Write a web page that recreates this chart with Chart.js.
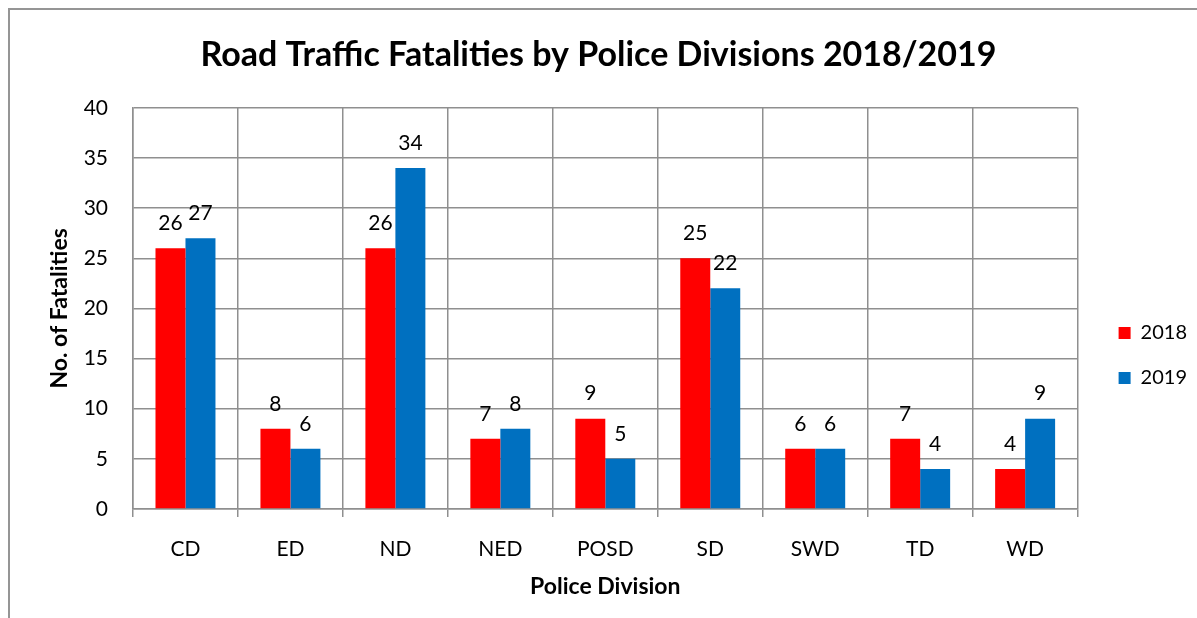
<!DOCTYPE html>
<html lang="en">
<head>
  <meta charset="UTF-8">
  <title>Road Traffic Fatalities by Police Divisions 2018/2019</title>
  <script src="https://cdn.jsdelivr.net/npm/chart.js"></script>
  <style>
    html, body { margin: 0; padding: 0; background: #fff; overflow: hidden; }
    #wrap { position: relative; width: 1197px; height: 618px; }
    #frame { position: absolute; left: 8px; top: 8px; width: 1300px; height: 700px; border: 2px solid #959595; box-sizing: border-box; pointer-events: none; }
    #viz { position: absolute; left: 0; top: 0; }
  </style>
  <script>
    const divisions = ['CD', 'ED', 'ND', 'NED', 'POSD', 'SD', 'SWD', 'TD', 'WD']
    const fatalities2018 = [26, 8, 26, 7, 9, 25, 6, 7, 4]
    const fatalities2019 = [27, 6, 34, 8, 5, 22, 6, 4, 9]
    const seriesNames = ['2018', '2019']
    const yMin = 0
    const yMax = 40
    const yStep = 5

    window.onload = () => {
      const gridColor = '#8f8f8f'
      Chart.defaults.font.family = 'Lato, "Open Sans", sans-serif'
      Chart.defaults.color = '#000'

      // numbers above the bars
      const valueLabels = {
        id: 'valueLabels',
        afterDatasetsDraw(chart) {
          const ctx = chart.ctx
          ctx.save()
          ctx.font = '21px Lato'
          ctx.fillStyle = '#000'
          ctx.textAlign = 'center'
          ctx.textBaseline = 'middle'
          chart.data.datasets.forEach((ds, i) => {
            chart.getDatasetMeta(i).data.forEach((bar, j) => {
              ctx.fillText(ds.data[j], bar.x, bar.y - 25)
            })
          })
          ctx.restore()
        }
      }

      new Chart(document.getElementById('viz'), {
        type: 'bar',
        data: {
          labels: divisions,
          datasets: [
            { label: seriesNames[0], data: fatalities2018, backgroundColor: '#ff0000', borderWidth: 0 },
            { label: seriesNames[1], data: fatalities2019, backgroundColor: '#0070c0', borderWidth: 0 }
          ]
        },
        options: {
          responsive: false,
          animation: false,
          devicePixelRatio: 1,
          layout: { padding: { left: 0, right: 0, top: 0, bottom: 0 } },
          datasets: { bar: { categoryPercentage: 60 / 105, barPercentage: 1 } },
          scales: {
            x: {
              grid: { color: gridColor, lineWidth: 1.5, offset: true, drawTicks: true, tickLength: 8 },
              border: { color: gridColor, width: 1.5 },
              ticks: { font: { size: 21 }, padding: 20, maxRotation: 0 },
              title: { display: true, text: 'Police Division', font: { size: 23, weight: 'bold' }, padding: { top: 0, bottom: 18 } },
              afterFit(scale) { scale.height = 109 }
            },
            y: {
              min: yMin,
              max: yMax,
              grid: { color: gridColor, lineWidth: 1.5, drawTicks: false },
              border: { color: gridColor, width: 1.5 },
              ticks: { stepSize: yStep, font: { size: 21 }, padding: 25 },
              title: { display: true, text: 'No. of Fatalities', font: { size: 23, weight: 'bold' }, padding: { top: 46, bottom: 0 } },
              afterFit(scale) { scale.width = 133 }
            },
            // empty spacer between plot and legend
            gap: {
              type: 'linear',
              axis: 'y',
              position: 'right',
              grid: { display: false },
              border: { display: false },
              ticks: { display: false },
              afterFit(scale) { scale.width = 16 }
            }
          },
          plugins: {
            title: {
              display: true,
              text: 'Road Traffic Fatalities by Police Divisions 2018/2019',
              font: { size: 34, weight: 'bold' },
              color: '#000',
              padding: { top: 35, bottom: 32 }
            },
            legend: {
              position: 'right',
              align: 'center',
              title: { display: true, text: '', font: { size: 10 }, padding: { top: 81, bottom: 0 } },
              labels: { boxWidth: 12, boxHeight: 12, padding: 25, font: { size: 20 } }
            },
            tooltip: { enabled: false }
          }
        },
        plugins: [valueLabels]
      })
    }
  </script>
</head>
<body>
  <div id="wrap">
    <canvas id="viz" width="1197" height="618"></canvas>
    <div id="frame"></div>
  </div>
</body>
</html>
